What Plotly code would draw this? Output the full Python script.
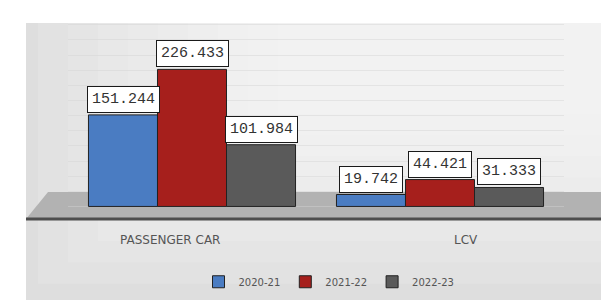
import plotly.graph_objects as go

categories = ["PASSENGER CAR", "LCV"]
series_names = ["2020-21", "2021-22", "2022-23"]
vals_2020 = [151244, 19742]
vals_2021 = [226433, 44421]
vals_2022 = [101984, 31333]
colors = ["#4a7cc2", "#a61f1c", "#5a5a5a"]

all_series = [vals_2020, vals_2021, vals_2022]

fig = go.Figure()
for name, vals, col in zip(series_names, all_series, colors):
    fig.add_trace(go.Bar(
        x=categories, y=vals, name=name,
        marker=dict(color=col, line=dict(color="#222222", width=1)),
        hoverinfo="skip",
    ))

W, H = 609, 300
L, R, T, B = 60, 53, 15, 82
pw = W - L - R
ph = H - T - B
ymax = 303050
ymin = -20735

def px_x(p):
    return (p - L) / pw

def px_y(p):
    return (H - B - p) / ph

def fmt(v):
    return f"{v:,}".replace(",", ".")

annotations = []
bar_px = 69
for i, vals in enumerate(all_series):
    for c, v in zip(categories, vals):
        annotations.append(dict(
            x=c, y=v, xref="x", yref="y", text=fmt(v), showarrow=False,
            xshift=(i - 1) * bar_px, yanchor="bottom", yshift=2,
            bgcolor="white", bordercolor="#1a1a1a", borderwidth=1, borderpad=4,
            font=dict(family="Liberation Mono", size=15, color="#333333"),
        ))

cat_shift = [-22, 26]
for c, s in zip(categories, cat_shift):
    annotations.append(dict(
        x=c, y=px_y(240), xref="x", yref="paper", text=c, showarrow=False,
        xshift=s, yanchor="middle",
        font=dict(family="DejaVu Sans", size=12, color="#555555"),
    ))

shapes = [
    dict(type="rect", xref="paper", yref="paper",
         x0=px_x(18), x1=px_x(W + 5), y0=px_y(H + 5), y1=px_y(15),
         fillcolor="#dedede", line=dict(width=0), layer="below"),
]
# soft light glow toward the upper right of the panel
for k in range(9):
    shapes.append(dict(
        type="rect", xref="paper", yref="paper",
        x0=px_x(30 + k * 30), x1=px_x(W + 5), y0=px_y(285 - k * 22), y1=px_y(15),
        fillcolor="white", opacity=0.12, line=dict(width=0), layer="below"))
# floor
shapes.append(dict(
    type="path", xref="paper", yref="paper",
    path=(f"M {px_x(40)} {px_y(190)} L {px_x(600)} {px_y(190)} "
          f"L {px_x(W)} {px_y(218)} L {px_x(18)} {px_y(218)} Z"),
    fillcolor="#b2b2b2", line=dict(width=0), layer="below"))
shapes.append(dict(
    type="line", xref="paper", yref="paper",
    x0=px_x(18), x1=px_x(W), y0=px_y(218), y1=px_y(218),
    line=dict(color="#4d4d4d", width=3)))

fig.update_layout(
    width=W, height=H,
    margin=dict(l=L, r=R, t=T, b=B),
    paper_bgcolor="white",
    plot_bgcolor="rgba(0,0,0,0)",
    barmode="group", bargap=0.165, bargroupgap=0,
    showlegend=True,
    legend=dict(orientation="h", x=px_x(321), xanchor="center", y=px_y(283), yanchor="middle",
                font=dict(family="DejaVu Sans", size=10, color="#555555"),
                bgcolor="rgba(0,0,0,0)"),
    xaxis=dict(showgrid=False, zeroline=False, showline=False, showticklabels=False),
    yaxis=dict(range=[ymin, ymax], showticklabels=False, showgrid=True,
               gridcolor="rgba(210,210,210,0.45)", zeroline=False, showline=False,
               dtick=25000),
    annotations=annotations,
    shapes=shapes,
)

fig.write_html("out.html")
